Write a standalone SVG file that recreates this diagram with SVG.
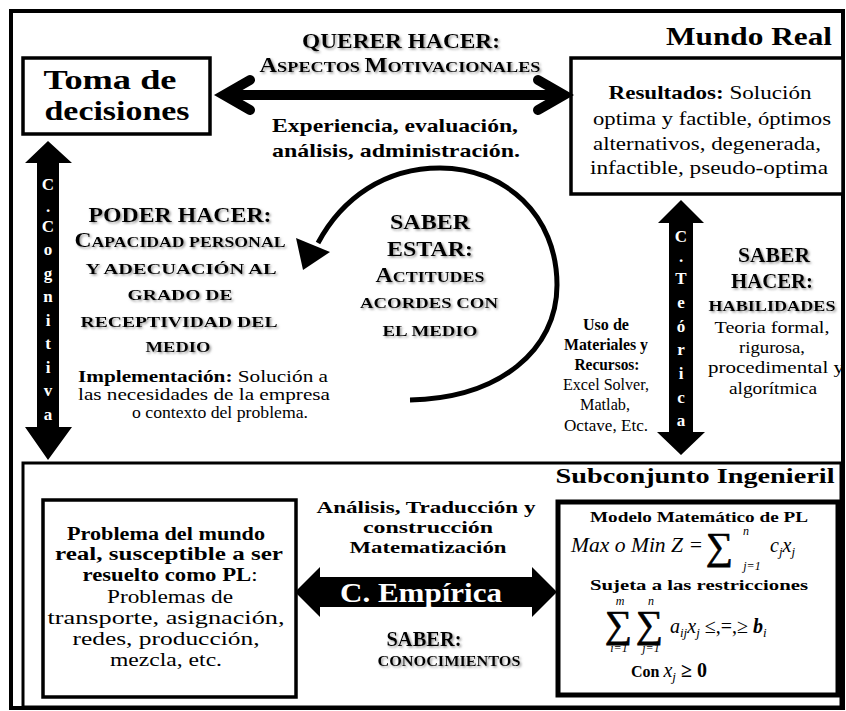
<svg xmlns="http://www.w3.org/2000/svg" width="846" height="711" viewBox="0 0 846 711">
<style>
text{font-family:"Liberation Serif","Times New Roman",serif;fill:#000}
.b{font-weight:bold}
.c{text-anchor:middle}
.w{fill:#fff;font-weight:bold;text-anchor:middle;font-size:17px}
.mi{font-style:italic}
.sg{font-size:38px;stroke:#000;stroke-width:0.7}
.lim{font-style:italic;font-size:12px;text-anchor:middle}
.sh{filter:url(#sh)}
.box{fill:#fff;stroke:#000;stroke-width:3.5}
.ln{fill:none;stroke:#000}
</style>
<defs>
<filter id="sh" x="-10%" y="-40%" width="130%" height="180%">
<feDropShadow dx="1.5" dy="1.5" stdDeviation="1.3" flood-color="#777" flood-opacity="0.75"/>
</filter>
</defs>
<rect width="846" height="711" fill="#fff"/>
<g id="frame">
<rect x="11" y="11" width="832" height="697" fill="none" stroke="#000" stroke-width="4"/>
<text class="b" x="832" y="45" font-size="25" text-anchor="end" textLength="166" lengthAdjust="spacingAndGlyphs">Mundo Real</text>
</g>
<g id="subconjunto">
<rect x="23" y="463" width="818" height="244" fill="none" stroke="#000" stroke-width="3"/>
<text class="b c" x="695" y="483" font-size="20" textLength="279" lengthAdjust="spacingAndGlyphs">Subconjunto Ingenieril</text>
</g>
<g id="toma">
<rect class="box" x="23" y="58" width="187" height="76"/>
<text class="b c" x="110" y="89" font-size="27" textLength="133" lengthAdjust="spacingAndGlyphs">Toma de</text>
<text class="b c" x="117" y="120" font-size="27" textLength="145" lengthAdjust="spacingAndGlyphs">decisiones</text>
</g>
<g id="resultados">
<rect class="box" x="571" y="58" width="272" height="136"/>
<text class="c" x="710" y="99" font-size="19" textLength="203" lengthAdjust="spacingAndGlyphs"><tspan class="b">Resultados:</tspan> Solución</text>
<text class="c" x="712" y="125" font-size="19" textLength="238" lengthAdjust="spacingAndGlyphs">optima y factible, óptimos</text>
<text class="c" x="707" y="150" font-size="19" textLength="228" lengthAdjust="spacingAndGlyphs">alternativos, degenerada,</text>
<text class="c" x="709" y="174" font-size="19" textLength="238" lengthAdjust="spacingAndGlyphs">infactible, pseudo-optima</text>
</g>
<g id="problema">
<rect class="box" x="43" y="500" width="253" height="197"/>
<text class="b c" x="166" y="540" font-size="18" textLength="198" lengthAdjust="spacingAndGlyphs">Problema del mundo</text>
<text class="b c" x="169" y="560" font-size="18" textLength="228" lengthAdjust="spacingAndGlyphs">real, susceptible a ser</text>
<text class="c" x="170" y="581" font-size="18" textLength="175" lengthAdjust="spacingAndGlyphs"><tspan class="b">resuelto como PL</tspan>:</text>
<text class="c" x="170" y="603" font-size="19" textLength="126" lengthAdjust="spacingAndGlyphs">Problemas de</text>
<text class="c" x="166" y="624" font-size="19" textLength="237" lengthAdjust="spacingAndGlyphs">transporte, asignación,</text>
<text class="c" x="166" y="645" font-size="19" textLength="187" lengthAdjust="spacingAndGlyphs">redes, producción,</text>
<text class="c" x="166" y="666" font-size="19" textLength="112" lengthAdjust="spacingAndGlyphs">mezcla, etc.</text>
</g>
<g id="modelo">
<rect x="558" y="502" width="280" height="193" fill="#fff" stroke="#000" stroke-width="5"/>
<text class="b c" x="699" y="522" font-size="15" textLength="218" lengthAdjust="spacingAndGlyphs">Modelo Matemático de PL</text>
<text class="mi" x="571" y="552" font-size="20" textLength="132" lengthAdjust="spacingAndGlyphs">Max o Min Z =</text>
<text class="sg" x="706" y="559">∑</text>
<text class="lim" x="746" y="535">n</text>
<text class="lim" x="752" y="570">j=1</text>
<text class="mi" x="770" y="552" font-size="20">c<tspan font-size="13" dy="4">j</tspan><tspan dy="-4">x</tspan><tspan font-size="13" dy="4">j</tspan></text>
<text class="b c" x="699" y="590" font-size="15" textLength="218" lengthAdjust="spacingAndGlyphs">Sujeta a las restricciones</text>
<text class="lim" x="620" y="605">m</text>
<text class="lim" x="651" y="605">n</text>
<text class="sg" x="605" y="637">∑</text>
<text class="sg" x="636" y="637">∑</text>
<text class="lim" x="619" y="652">i=1</text>
<text class="lim" x="651" y="652">j=1</text>
<text class="mi" x="670" y="633" font-size="20">a<tspan font-size="13" dy="4">ij</tspan><tspan dy="-4">x</tspan><tspan font-size="13" dy="4">j</tspan><tspan dy="-4" font-style="normal"> ≤,=,≥ </tspan><tspan class="b">b</tspan><tspan font-size="13" dy="4">i</tspan></text>
<text x="631" y="677" font-size="16"><tspan class="b">Con </tspan><tspan class="mi" font-size="20">x</tspan><tspan class="mi" font-size="13" dy="4">j</tspan><tspan dy="-4" font-size="20" class="b"> ≥ 0</tspan></text>
</g>
<g id="labels">
<text class="b c sh" x="401" y="48" font-size="20" textLength="198" lengthAdjust="spacingAndGlyphs">QUERER HACER:</text>
<text class="b c sh" x="400" y="72" font-size="20" textLength="281" lengthAdjust="spacingAndGlyphs">A<tspan font-size="15">SPECTOS </tspan>M<tspan font-size="15">OTIVACIONALES</tspan></text>
<text class="b c" x="395" y="132" font-size="19" textLength="246" lengthAdjust="spacingAndGlyphs">Experiencia, evaluación,</text>
<text class="b c" x="396" y="157" font-size="19" textLength="248" lengthAdjust="spacingAndGlyphs">análisis, administración.</text>
<text class="b c sh" x="180" y="222" font-size="20" textLength="183" lengthAdjust="spacingAndGlyphs">PODER HACER:</text>
<text class="b c sh" x="180" y="247" font-size="20" textLength="211" lengthAdjust="spacingAndGlyphs">C<tspan font-size="15">APACIDAD PERSONAL</tspan></text>
<text class="b c sh" x="181" y="274" font-size="15" textLength="191" lengthAdjust="spacingAndGlyphs">Y ADECUACIÓN AL</text>
<text class="b c sh" x="180" y="300" font-size="15" textLength="105" lengthAdjust="spacingAndGlyphs">GRADO DE</text>
<text class="b c sh" x="179" y="327" font-size="15" textLength="197" lengthAdjust="spacingAndGlyphs">RECEPTIVIDAD DEL</text>
<text class="b c sh" x="178" y="352" font-size="15" textLength="65" lengthAdjust="spacingAndGlyphs">MEDIO</text>
<text class="c" x="203" y="382" font-size="16" textLength="250" lengthAdjust="spacingAndGlyphs"><tspan class="b">Implementación:</tspan> Solución a</text>
<text class="c" x="204" y="400" font-size="16" textLength="252" lengthAdjust="spacingAndGlyphs">las necesidades de la empresa</text>
<text class="c" x="220" y="418" font-size="16" textLength="176" lengthAdjust="spacingAndGlyphs">o contexto del problema.</text>
<text class="b c sh" x="430" y="229" font-size="21" textLength="80" lengthAdjust="spacingAndGlyphs">SABER</text>
<text class="b c sh" x="430" y="256" font-size="21" textLength="86" lengthAdjust="spacingAndGlyphs">ESTAR:</text>
<text class="b c sh" x="430" y="282" font-size="20" textLength="109" lengthAdjust="spacingAndGlyphs">A<tspan font-size="15">CTITUDES</tspan></text>
<text class="b c sh" x="429" y="308" font-size="15" textLength="138" lengthAdjust="spacingAndGlyphs">ACORDES CON</text>
<text class="b c sh" x="430" y="336" font-size="15" textLength="95" lengthAdjust="spacingAndGlyphs">EL MEDIO</text>
<text class="b c" x="606" y="330" font-size="16" textLength="46" lengthAdjust="spacingAndGlyphs">Uso de</text>
<text class="b c" x="606" y="350" font-size="16" textLength="84" lengthAdjust="spacingAndGlyphs">Materiales y</text>
<text class="b c" x="607" y="370" font-size="16" textLength="65" lengthAdjust="spacingAndGlyphs">Recursos:</text>
<text class="c" x="606" y="390" font-size="16" textLength="86" lengthAdjust="spacingAndGlyphs">Excel Solver,</text>
<text class="c" x="605" y="410" font-size="16" textLength="50" lengthAdjust="spacingAndGlyphs">Matlab,</text>
<text class="c" x="606" y="431" font-size="16" textLength="84" lengthAdjust="spacingAndGlyphs">Octave, Etc.</text>
<text class="b c sh" x="774" y="262" font-size="21" textLength="72" lengthAdjust="spacingAndGlyphs">SABER</text>
<text class="b c sh" x="772" y="288" font-size="21" textLength="82" lengthAdjust="spacingAndGlyphs">HACER:</text>
<text class="b c sh" x="772" y="311" font-size="15" textLength="127" lengthAdjust="spacingAndGlyphs">HABILIDADES</text>
<text class="c" x="772" y="333" font-size="17" textLength="115" lengthAdjust="spacingAndGlyphs">Teoria formal,</text>
<text class="c" x="772" y="353" font-size="17" textLength="66" lengthAdjust="spacingAndGlyphs">rigurosa,</text>
<text class="c" x="776" y="373" font-size="17" textLength="136" lengthAdjust="spacingAndGlyphs">procedimental y</text>
<text class="c" x="773" y="394" font-size="17" textLength="88" lengthAdjust="spacingAndGlyphs">algorítmica</text>
<text class="b c" x="426" y="513" font-size="16" textLength="219" lengthAdjust="spacingAndGlyphs">Análisis, Traducción y</text>
<text class="b c" x="428" y="533" font-size="16" textLength="130" lengthAdjust="spacingAndGlyphs">construcción</text>
<text class="b c" x="428" y="553" font-size="16" textLength="157" lengthAdjust="spacingAndGlyphs">Matematización</text>
<text class="b c sh" x="424" y="646" font-size="22" textLength="75" lengthAdjust="spacingAndGlyphs">SABER:</text>
<text class="b c sh" x="449" y="666" font-size="15" textLength="143" lengthAdjust="spacingAndGlyphs">CONOCIMIENTOS</text>
</g>
<g id="connectors">
<g id="querer-arrow" class="ln" stroke-width="10" stroke-linecap="round">
<line x1="226" y1="95" x2="561" y2="95" stroke-linecap="butt"/>
<polyline points="250,80 224,95 250,110" stroke-linejoin="miter"/>
<polyline points="538,80 564,95 538,110" stroke-linejoin="miter"/>
</g>
<g id="cognitiva-arrow">
<polygon points="48,141 72,163 59,163 59,427 72,427 48,460 25,427 37,427 37,163 25,163"/>
<text class="w" x="48" y="190">C</text>
<text class="w" x="48" y="212">.</text>
<text class="w" x="48" y="232">C</text>
<text class="w" x="48" y="255">o</text>
<text class="w" x="48" y="279">g</text>
<text class="w" x="48" y="302">n</text>
<text class="w" x="48" y="326">i</text>
<text class="w" x="48" y="349">t</text>
<text class="w" x="48" y="373">i</text>
<text class="w" x="48" y="396">v</text>
<text class="w" x="48" y="420">a</text>
</g>
<g id="teorica-arrow">
<polygon points="681,200 704,223 693,223 693,432 705,432 681,455 657,432 669,432 669,223 658,223"/>
<text class="w" x="681" y="242">C</text>
<text class="w" x="681" y="262">.</text>
<text class="w" x="681" y="284">T</text>
<text class="w" x="681" y="308">e</text>
<text class="w" x="681" y="332">ó</text>
<text class="w" x="681" y="355">r</text>
<text class="w" x="681" y="379">i</text>
<text class="w" x="681" y="403">c</text>
<text class="w" x="681" y="426">a</text>
</g>
<g id="empirica-arrow">
<polygon points="295,592 320,567 320,577 532,577 532,567 557,592 532,617 532,607 320,607 320,617"/>
<text class="b c" x="421" y="602" font-size="27" style="fill:#fff" textLength="162" lengthAdjust="spacingAndGlyphs">C. Empírica</text>
</g>
<g id="estar-arrow">
<path class="ln" stroke-width="5" d="M410,400 C500,398 557,350 557,285 C557,215 505,168 440,168 C385,168 342,198 318,243"/>
<polygon points="303,270 296,238 330,252"/>
</g>
</g>
</svg>
